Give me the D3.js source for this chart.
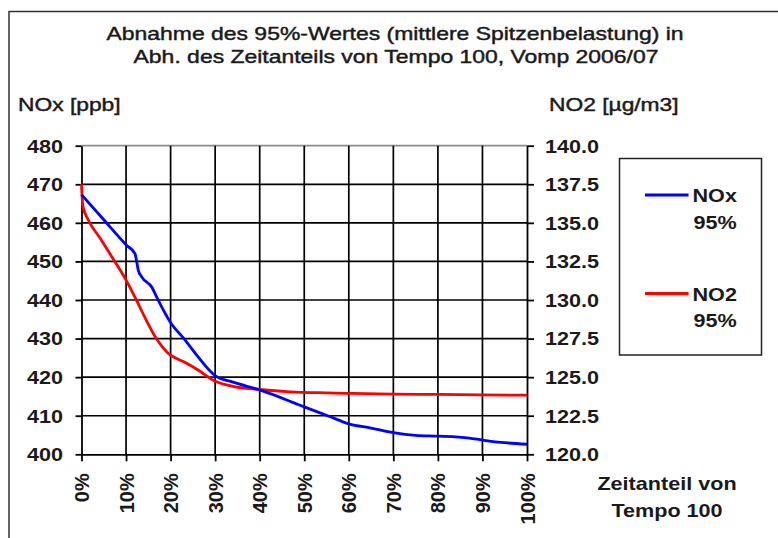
<!DOCTYPE html>
<html>
<head>
<meta charset="utf-8">
<script src="https://cdn.jsdelivr.net/npm/d3@7"></script>
<style>
  html, body { margin: 0; padding: 0; background: #fff; }
  svg { display: block; font-family: "Liberation Sans", Arial, sans-serif; }
</style>
</head>
<body>
<div id="chart"></div>
<script>
// ---------- data ----------
const titleLines = ["Abnahme des 95%-Wertes (mittlere Spitzenbelastung) in",
                    "Abh. des Zeitanteils von Tempo 100, Vomp 2006/07"];
const leftTitle = "NOx [ppb]";
const rightTitle = "NO2 [µg/m3]";
const xTitle = ["Zeitanteil von", "Tempo 100"];

const pctTicks = [0, 10, 20, 30, 40, 50, 60, 70, 80, 90, 100];
const leftTicks = [400, 410, 420, 430, 440, 450, 460, 470, 480];
const rightTicks = [120, 122.5, 125, 127.5, 130, 132.5, 135, 137.5, 140];

// NOx 95% (left axis, ppb)
const noxPct = [0, 5, 10.1, 12.0, 12.4, 12.75, 13.5, 15.8, 16.9, 20.2, 23, 26, 30, 34, 40, 50, 55.7, 60, 65, 70, 75, 80, 87, 90, 95, 100];
const noxVal = [467.3, 460.8, 454.2, 452.0, 449.9, 447.7, 446.0, 443.3, 440.7, 433.8, 430, 425.5, 420.4, 418.7, 416.7, 412.3, 409.8, 407.9, 406.8, 405.6, 404.9, 404.7, 404.2, 403.7, 403.0, 402.6];

// NO2 95% (right axis, µg/m3)
const no2Pct = [0, 0.3, 1.5, 4.2, 6.8, 9.8, 10.9, 12.75, 14.6, 16.9, 19.1, 23.6, 26.5, 29.6, 34, 40, 46.8, 55, 60, 70, 80, 90, 100];
const no2Val = [137.5, 136.1, 135.2, 134.0, 132.8, 131.4, 130.8, 129.75, 128.65, 127.45, 126.65, 125.9, 125.4, 124.8, 124.4, 124.2, 124.05, 123.98, 123.95, 123.9, 123.88, 123.85, 123.83];

const legendItems = [
  { name: "NOx", sub: "95%", color: "#0000ff" },
  { name: "NO2", sub: "95%", color: "#ff0000" }
];

// ---------- layout ----------
const W = 778, H = 538;
const SX = 1.2; // horizontal text stretch of the original
const svg = d3.select("#chart").append("svg").attr("width", W).attr("height", H);
svg.append("rect").attr("width", W).attr("height", H).attr("fill", "#fff");

// outer frame
svg.append("rect").attr("x", 9).attr("y", 11.5).attr("width", 900).attr("height", 700)
  .attr("fill", "none").attr("stroke", "#333").attr("stroke-width", 1.5);

const x = d3.scaleLinear().domain([0, 100]).range([81.5, 527]);
const yL = d3.scaleLinear().domain([400, 480]).range([454.3, 145.7]);
const yR = d3.scaleLinear().domain([120, 140]).range([454.3, 145.7]);

function stretchedText(px, py, str, size, weight, anchor, sx, thicken) {
  const g = svg.append("g").attr("transform", `translate(${px},${py}) scale(${sx},1)`);
  const t = g.append("text").attr("x", 0).attr("y", 0)
    .attr("font-size", size).attr("font-weight", weight)
    .attr("text-anchor", anchor).attr("fill", "#1a1a1a").text(str);
  if (thicken) t.attr("stroke", "#1a1a1a").attr("stroke-width", thicken);
  return g;
}

// title
stretchedText(395, 39.5, titleLines[0], 18.8, "normal", "middle", 1.22, 0.45);
stretchedText(396, 63, titleLines[1], 18.8, "normal", "middle", 1.22, 0.45);
// axis titles
stretchedText(18, 111, leftTitle, 19, "normal", "start", SX, 0.45);
stretchedText(549, 111, rightTitle, 19, "normal", "start", SX, 0.45);
stretchedText(667, 490, xTitle[0], 18, "bold", "middle", SX);
stretchedText(667, 516.5, xTitle[1], 18, "bold", "middle", SX);

// gridlines
const grid = svg.append("g");
grid.selectAll("line.h").data(leftTicks.filter(v => v > 400 && v < 480)).enter().append("line")
  .attr("x1", x(0)).attr("x2", x(100)).attr("y1", d => yL(d)).attr("y2", d => yL(d))
  .attr("stroke", "#000").attr("stroke-width", 1.7);
grid.append("line").attr("x1", x(0)).attr("x2", x(100)).attr("y1", yL(480)).attr("y2", yL(480))
  .attr("stroke", "#8c8c8c").attr("stroke-width", 1.7);
grid.selectAll("line.v").data(pctTicks.filter(v => v > 0 && v < 100)).enter().append("line")
  .attr("x1", d => x(d)).attr("x2", d => x(d)).attr("y1", yL(400)).attr("y2", yL(480))
  .attr("stroke", "#000").attr("stroke-width", 1.7);

function styleAxis(g) {
  g.select(".domain").attr("stroke", "#000").attr("stroke-width", 1.8);
  g.selectAll(".tick line").attr("stroke", "#000").attr("stroke-width", 1.8);
  g.selectAll(".tick text").attr("fill", "#1a1a1a").attr("font-weight", "bold")
    .attr("font-family", "Liberation Sans, Arial, sans-serif");
}

// left axis
const gL = svg.append("g").attr("transform", `translate(${x(0)},0)`)
  .call(d3.axisLeft(yL).tickValues(leftTicks).tickSize(6).tickSizeOuter(0).tickFormat(d3.format("d")));
styleAxis(gL);
gL.selectAll(".tick text").attr("font-size", 18)
  .attr("transform", `scale(${SX},1)`).attr("x", -18.5 / SX).attr("dy", "0.35em");

// right axis
const gR = svg.append("g").attr("transform", `translate(${x(100)},0)`)
  .call(d3.axisRight(yR).tickValues(rightTicks).tickSize(7).tickSizeOuter(0).tickFormat(d3.format(".1f")));
styleAxis(gR);
gR.selectAll(".tick text").attr("font-size", 18)
  .attr("transform", `scale(${SX},1)`).attr("x", 18 / SX).attr("dy", "0.35em");

// bottom axis
const gB = svg.append("g").attr("transform", `translate(0,${yL(400)})`)
  .call(d3.axisBottom(x).tickValues(pctTicks).tickSize(7).tickSizeOuter(0).tickFormat(d => d + "%"));
styleAxis(gB);
gB.selectAll(".tick text").attr("font-size", 20)
  .attr("transform", "rotate(-90)").attr("text-anchor", "end")
  .attr("x", -19).attr("y", 0).attr("dy", "0.35em");

// series
const lineL = d3.line().x((d, i) => x(noxPct[i])).y(d => yL(d)).curve(d3.curveMonotoneX);
const lineR = d3.line().x((d, i) => x(no2Pct[i])).y(d => yR(d)).curve(d3.curveMonotoneX);

svg.append("path").datum(no2Val).attr("d", lineR)
  .attr("fill", "none").attr("stroke", legendItems[1].color).attr("stroke-width", 2.8)
  .attr("stroke-linejoin", "round");
svg.append("path").datum(noxVal).attr("d", lineL)
  .attr("fill", "none").attr("stroke", legendItems[0].color).attr("stroke-width", 2.8)
  .attr("stroke-linejoin", "round");

// legend
svg.append("rect").attr("x", 619.5).attr("y", 158.5).attr("width", 142).attr("height", 196.5)
  .attr("fill", "#fff").attr("stroke", "#222").attr("stroke-width", 1.5);
const legY = [195, 293.5];
legendItems.forEach((it, i) => {
  svg.append("line").attr("x1", 645).attr("x2", 688.5).attr("y1", legY[i]).attr("y2", legY[i])
    .attr("stroke", it.color).attr("stroke-width", 3);
  stretchedText(692.5, legY[i] + 7, it.name, 18, "bold", "start", SX);
  stretchedText(715, legY[i] + 33.5, it.sub, 18, "bold", "middle", SX);
});
</script>
</body>
</html>
